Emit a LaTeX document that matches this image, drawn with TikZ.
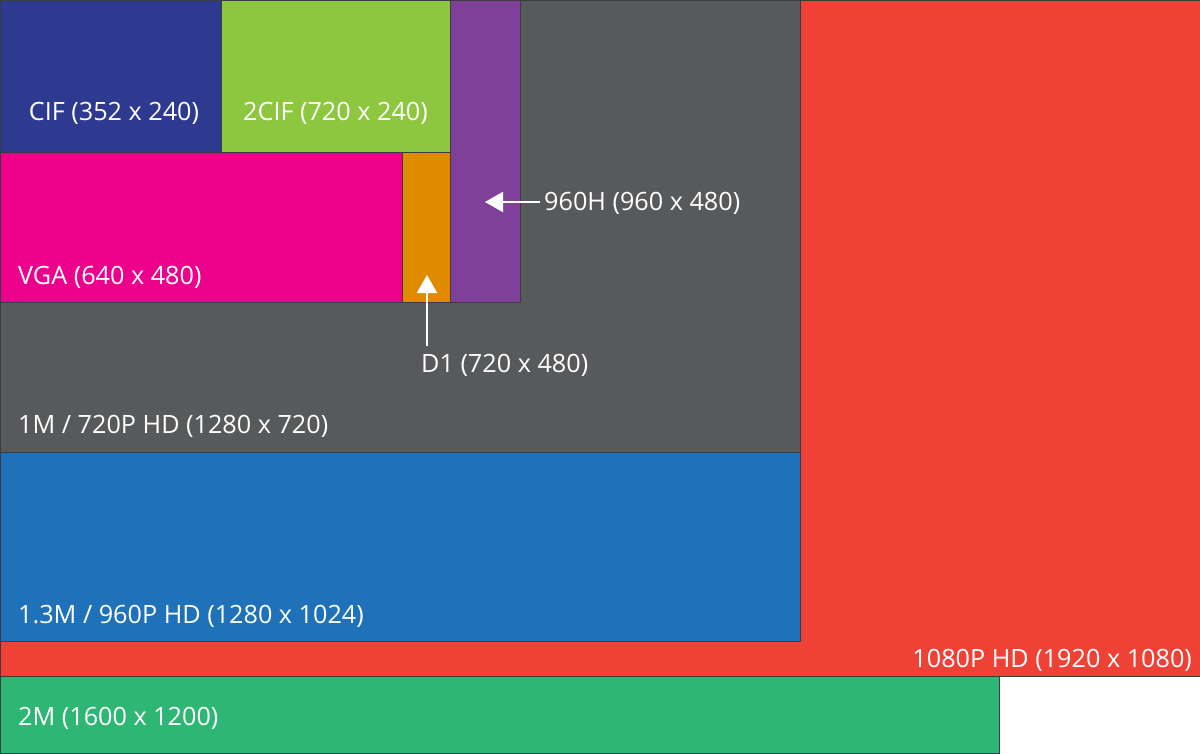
\documentclass[tikz,border=0pt]{standalone}
\usepackage{fontspec}
\setmainfont{Open Sans}
\usetikzlibrary{arrows.meta}
\definecolor{cifblue}{RGB}{46,58,143}
\definecolor{cifgreen}{RGB}{141,198,63}
\definecolor{vgapink}{RGB}{236,0,140}
\definecolor{dorange}{RGB}{224,138,0}
\definecolor{hpurple}{RGB}{128,63,152}
\definecolor{hdgray}{RGB}{88,89,91}
\definecolor{mblue}{RGB}{31,114,186}
\definecolor{fullred}{RGB}{239,65,54}
\definecolor{mgreen}{RGB}{45,182,116}
\definecolor{edge}{RGB}{60,60,62}
\tikzset{
  res/.style={draw=edge, line width=0.9pt},
  lbl/.style={text=white, font=\fontsize{25.2}{30}\selectfont, inner sep=0pt},
  ptr/.style={draw=white, line width=2pt, -{Triangle[length=18pt,width=20pt]}},
}
\begin{document}
\begin{tikzpicture}[x=1pt,y=-1pt]
\useasboundingbox (0,0) rectangle (1200,753);
\fill[white] (0,0) rectangle (1200,753);
% rectangles
\draw[res, fill=fullred] (0,0) rectangle (1200,676);
\draw[res, fill=mgreen] (0,676) rectangle (999,753);
\draw[res, fill=mblue] (0,0) rectangle (800,641);
\draw[res, fill=hdgray] (0,0) rectangle (800,452);
\draw[res, fill=hpurple] (450,0) rectangle (520,302);
\draw[res, fill=dorange] (402,152) rectangle (450,302);
\draw[res, fill=vgapink] (0,152) rectangle (402,302);
\draw[res, fill=cifgreen] (221,0) rectangle (450,152);
\draw[res, fill=cifblue] (0,0) rectangle (221,152);
% labels
\node[lbl, anchor=base] (cif) at (114,120) {CIF (352 x 240)};
\node[lbl, anchor=base] (cif2) at (335.5,120) {2CIF (720 x 240)};
\node[lbl, anchor=base west] (vga) at (18,284) {VGA (640 x 480)};
\node[lbl, anchor=base west] (h960) at (544,210) {960H (960 x 480)};
\node[lbl, anchor=base west] (d1) at (421,372) {D1 (720 x 480)};
\node[lbl, anchor=base west] (hd720) at (18,433) {1M / 720P HD (1280 x 720)};
\node[lbl, anchor=base west] (hd960) at (18,623) {1.3M / 960P HD (1280 x 1024)};
\node[lbl, anchor=base east] (hd1080) at (1192,667) {1080P HD (1920 x 1080)};
\node[lbl, anchor=base west] (m2) at (18,725) {2M (1600 x 1200)};
% pointers
\coordinate (h960tip) at (485,202);
\coordinate (d1tip) at (427,275);
\coordinate (h960start) at (540,202);
\coordinate (d1start) at (427,346);
\draw[ptr] (h960start) -- (h960tip);
\draw[ptr] (d1start) -- (d1tip);
\end{tikzpicture}
\end{document}
